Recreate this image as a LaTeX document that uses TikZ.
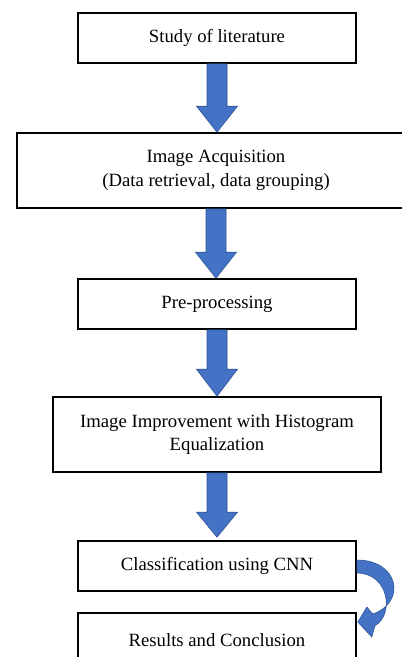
\documentclass[tikz,border=0pt]{standalone}
\usepackage{fontspec}
\setmainfont{Liberation Serif}
\usetikzlibrary{calc}
\definecolor{arrfill}{HTML}{4472C4}
\definecolor{arrdraw}{HTML}{2F5597}
\tikzset{
  stepbox/.style={draw=black, line width=1.6pt, fill=white, rectangle, inner sep=0pt,
    align=center, font=\fontsize{18.7}{24}\selectfont},
  blockarr/.style={fill=arrfill, draw=arrdraw, line width=0.6pt, line join=miter}
}
\newcommand\blockarrow[3]{% from node #1 to coordinate #2 (tip), head length #3
  \filldraw[blockarr] ($(#1.south)+(-10,0)$) -- ($(#2)+(-10,-#3)$) -- ($(#2)+(-20.5,-#3)$)
    -- (#2) -- ($(#2)+(20.5,-#3)$) -- ($(#2)+(10,-#3)$) -- ($(#1.south)+(10,0)$) -- cycle;
}
\begin{document}
\begin{tikzpicture}[x=1pt,y=-1pt]
\clip (0,0) rectangle (402,657);
\fill[white] (0,0) rectangle (402,657);

\node[stepbox, minimum width=278pt, minimum height=50pt] (b1) at (217,38) {Study of literature};
\node[stepbox, minimum width=398pt, minimum height=75pt] (b2) at (216,170.5) {Image Acquisition\\(Data retrieval, data grouping)};
\node[stepbox, minimum width=278pt, minimum height=50pt] (b3) at (217,304) {Pre-processing};
\node[stepbox, minimum width=328pt, minimum height=75pt, font=\fontsize{18.7}{22.5}\selectfont] (b4) at (217,434.5) {Image Improvement with Histogram\\Equalization};
\node[stepbox, minimum width=278pt, minimum height=50pt] (b5) at (217,566) {Classification using CNN};
\node[stepbox, minimum width=278pt, minimum height=54pt] (b6) at (217,640) {Results and Conclusion};

\coordinate (t1) at (b2.north -| b1.south);
\coordinate (t2) at (b3.north -| b2.south);
\coordinate (t3) at (b4.north -| b3.south);
\coordinate (t4) at ($(b5.north -| b4.south)+(0,-3)$);
\blockarrow{b1}{t1}{26}
\blockarrow{b2}{t2}{26}
\blockarrow{b3}{t3}{27}
\blockarrow{b4}{t4}{25}

\begin{scope}[shift={(b5.east)}]
  \coordinate (cs) at (0,-6);
  \coordinate (ce) at (0,7);
  \filldraw[blockarr] (cs) .. controls (42,-6) and (50,36) .. (16,48)
    -- (10,41) -- (1,56) -- (15,71) -- (18,60)
    .. controls (38,48) and (32,7) .. (ce) -- cycle;
\end{scope}
\end{tikzpicture}
\end{document}
